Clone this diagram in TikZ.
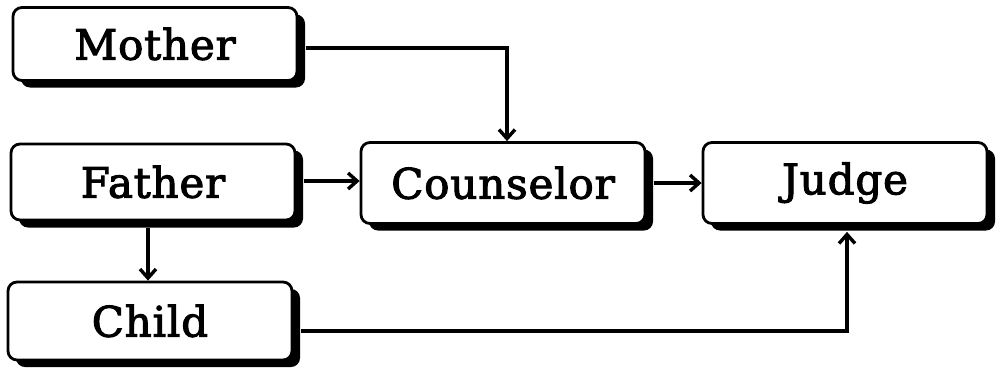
\documentclass[tikz,border=0pt]{standalone}
\usepackage{fontspec}
\newfontfamily\boxfont[LetterSpace=2,FakeBold=2.5]{DejaVu Serif}
\usetikzlibrary{arrows.meta}
\tikzset{
  box/.style={draw=black, line width=2.8pt, fill=white, rounded corners=9pt,
    minimum width=284pt, minimum height=76pt, inner sep=0pt,
    font=\boxfont\fontsize{42}{46}\selectfont},
  shadowbox/.style={fill=black, rounded corners=9pt},
  conn/.style={line width=4.4pt, -{Straight Barb[length=9pt,width=16pt,line width=3.4pt]}},
}
\begin{document}
\begin{tikzpicture}[x=1pt,y=-1pt]
\useasboundingbox (0,0) rectangle (1000,370);
% shadows
\foreach \cx/\cy/\h in {155/44/73, 153/182/77, 503/183/81, 845/183/81, 150/321/78}{
  \fill[shadowbox] (\cx-142+8,\cy-\h/2+7) rectangle (\cx+142+8,\cy+\h/2+7);
}
\node[box, minimum height=73pt] (mother) at (155,44) {Mother};
\node[box] (father) at (153,182) {Father};
\node[box, minimum height=81pt] (counselor) at (503,183) {Counselor};
\node[box, minimum height=81pt] (judge) at (845,183) {Judge};
\node[box, minimum height=78pt] (child) at (150,321) {Child};
\coordinate (mturn) at (507,48);
\coordinate (cturn) at (847,331);
\coordinate (fdown) at (148,228);
\draw[conn] ([xshift=8pt,yshift=-4pt]mother.east) -- (mturn) -- (mturn |- counselor.north);
\draw[conn] ([xshift=8pt,yshift=1pt]father.east) -- ([yshift=1pt]father.east -| counselor.west);
\draw[conn] ([xshift=8pt]counselor.east) -- (counselor.east -| judge.west);
\draw[conn] (fdown) -- (fdown |- child.north);
\draw[conn] ([xshift=8pt,yshift=-10pt]child.east) -- (cturn) -- ([yshift=-7pt]cturn |- judge.south);
\end{tikzpicture}
\end{document}
